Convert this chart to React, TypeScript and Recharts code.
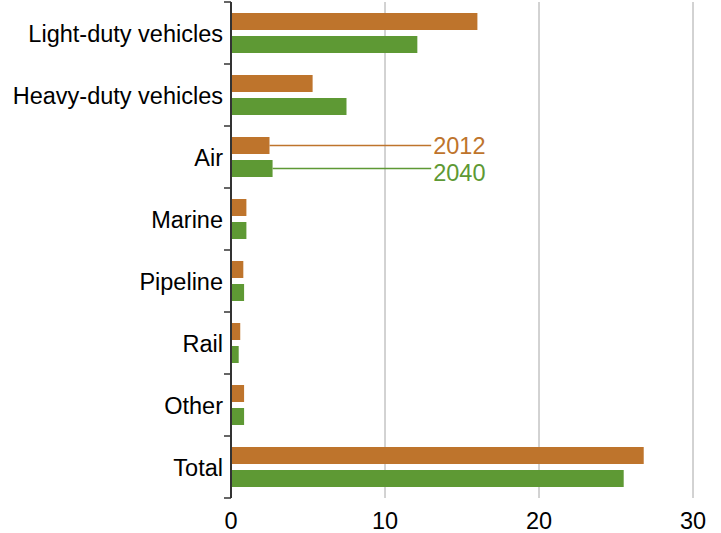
import { BarChart, Bar, XAxis, YAxis, CartesianGrid, LabelList } from "recharts";

const categories = [
  "Light-duty vehicles",
  "Heavy-duty vehicles",
  "Air",
  "Marine",
  "Pipeline",
  "Rail",
  "Other",
  "Total",
];
const values2012 = [16.0, 5.3, 2.5, 1.0, 0.8, 0.6, 0.85, 26.8];
const values2040 = [12.1, 7.5, 2.7, 1.0, 0.85, 0.5, 0.85, 25.5];
const xTicks = [0, 10, 20, 30];

const series = [
  { key: "y2012", label: "2012", color: "#BE742C", textShift: 0 },
  { key: "y2040", label: "2040", color: "#5E9934", textShift: 4 },
];

const data = categories.map((name, i) => ({
  name,
  y2012: values2012[i],
  y2040: values2040[i],
}));

const FONT = "'Liberation Sans', Arial, Helvetica, sans-serif";
const FS = 23.5;
const calloutCategory = "Air";
const calloutEnd = 13; // x value where the callout line stops

const YTick = (props: any) => {
  const { x, y, payload, index } = props;
  const half = payload.offset ?? 31;
  const isLast = index === categories.length - 1;
  return (
    <g>
      <line x1={224} x2={231} y1={y - half} y2={y - half} stroke="#333" strokeWidth={1.5} />
      {isLast && (
        <line x1={224} x2={231} y1={y + half} y2={y + half} stroke="#333" strokeWidth={1.5} />
      )}
      <text
        x={x}
        y={y + 1}
        dy="0.355em"
        textAnchor="end"
        fill="#000"
        fontSize={FS}
        fontFamily={FONT}
      >
        {payload.value}
      </text>
    </g>
  );
};

const makeCallout = (label: string, color: string, shift: number) => (props: any) => {
  const { x, y, width, height, value, index } = props;
  if (categories[index] !== calloutCategory) return null;
  const endX = x + (calloutEnd / value) * width;
  const cy = y + height / 2;
  return (
    <g>
      <line x1={x + width} x2={endX} y1={cy} y2={cy} stroke={color} strokeWidth={1.5} />
      <text
        x={endX + 2}
        y={cy + shift}
        dy="0.355em"
        fill={color}
        fontSize={FS}
        fontFamily={FONT}
      >
        {label}
      </text>
    </g>
  );
};

export default function App() {
  return (
    <div style={{ position: "absolute", left: 0, top: 0, background: "#fff" }}>
      <BarChart
        width={721}
        height={533}
        data={data}
        layout="vertical"
        margin={{ top: 2, right: 28, bottom: 0, left: 0 }}
        barSize={17}
        barGap={6}
      >
        <CartesianGrid horizontal={false} stroke="#A6A6A6" strokeWidth={1} />
        <XAxis
          type="number"
          domain={[0, 30]}
          ticks={xTicks}
          axisLine={false}
          tickLine={false}
          tickMargin={8}
          height={35}
          tick={{ fill: "#000", fontSize: FS, fontFamily: FONT }}
        />
        <YAxis
          type="category"
          dataKey="name"
          width={231}
          axisLine={{ stroke: "#333", strokeWidth: 2 }}
          tickLine={false}
          tick={<YTick />}
          interval={0}
        />
        {series.map((s) => (
          <Bar key={s.key} dataKey={s.key} fill={s.color} isAnimationActive={false}>
            <LabelList dataKey={s.key} content={makeCallout(s.label, s.color, s.textShift)} />
          </Bar>
        ))}
      </BarChart>
    </div>
  );
}
